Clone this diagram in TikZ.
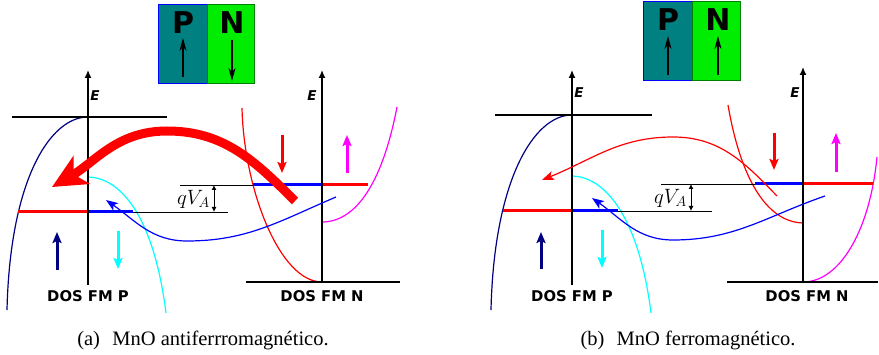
\documentclass[tikz,border=0pt]{standalone}
\usepackage{fontspec}
\setmainfont{Liberation Serif}
\setsansfont{DejaVu Sans}
\usetikzlibrary{arrows.meta}
\definecolor{pfill}{RGB}{0,128,128}
\definecolor{nfill}{RGB}{0,236,0}
\definecolor{nedge}{RGB}{0,128,0}
\definecolor{navy}{RGB}{0,0,128}
\definecolor{cyanc}{RGB}{0,255,255}
\definecolor{magc}{RGB}{255,0,255}
\definecolor{redc}{RGB}{255,0,0}
\definecolor{bluec}{RGB}{0,0,255}

\begin{document}
\begin{tikzpicture}[x=1pt, y=-1pt, >={Stealth[length=12pt,width=9pt,inset=3pt]},
	dos/.style={font=\sffamily\bfseries\fontsize{14.8}{17}\selectfont},
	elabel/.style={font=\sffamily\bfseries\itshape\fontsize{13.5}{15}\selectfont},
	letter/.style={font=\sffamily\bfseries\fontsize{30}{32}\selectfont},
	caption/.style={font=\fontsize{20.5}{24}\selectfont},
	axis/.style={line width=1.4pt, -{Latex[length=8pt,width=7pt]}},
	zero/.style={line width=1.4pt},
	thin/.style={line width=0.8pt},
	band/.style={line width=1.2pt},
	level/.style={line width=3pt},
	spin/.style={line width=3pt, -{Stealth[length=11pt,width=9pt,inset=2pt]}},
	boxarrow/.style={line width=1.1pt, -{Stealth[length=13pt,width=7pt,inset=4pt]}},
	gap/.style={line width=0.9pt, {Latex[length=5pt,width=5pt]}-{Latex[length=5pt,width=5pt]}}]
	\useasboundingbox (0,0) rectangle (879,355);

	% (a) antiferromagnetic
	\draw[fill=pfill, draw=bluec, line width=1pt] (158,5) rectangle (207,84);
	\draw[fill=nfill, draw=nedge, line width=1pt] (207,5) rectangle (254,84);
	\node[letter] (pa) at (183,23) {P};
	\node[letter] (na) at (232,23) {N};
	\draw[boxarrow] (183,77) -- (183,38);
	\draw[boxarrow] (232,40) -- (232,81);

	\draw[navy, band] (7,310) .. controls (10,180) and (50,117) .. (88,117);
	\draw[cyanc, band] (88,177) .. controls (125,178) and (155,225) .. (166,313);
	\draw[redc, band] (242,108) .. controls (244,190) and (280,282) .. (322,282);
	\draw[magc, band] (322,222) .. controls (355,222) and (382,185) .. (397,107);

	\draw[zero] (12,117) -- (167,117);
	\draw[zero] (246,282) -- (400,282);
	\draw[thin] (88,212) -- (228,212);
	\draw[thin] (180,185) -- (322,185);
	\draw[level, redc] (18,212) -- (88,212);
	\draw[level, bluec] (88,212) -- (133,212);
	\draw[level, bluec] (253,185) -- (322,185);
	\draw[level, redc] (322,185) -- (368,185);
	\draw[axis] (88,285) -- (88,70);
	\draw[axis] (322,281) -- (322,70);
	\node[elabel] (ela) at (95,96) {E};
	\node[elabel] (era) at (312,96) {E};

	\draw[gap] (214,185) -- (214,212);
	\node[anchor=east, inner sep=1pt, font=\fontsize{22}{26}\selectfont] (qva) at (211,199) {$qV_A$};

	\draw[spin, navy] (57,270) -- (57,232);
	\draw[spin, cyanc] (118,231) -- (118,269);
	\draw[spin, redc] (282,135) -- (282,173);
	\draw[spin, magc] (347,173) -- (347,135);

	\draw[redc, line width=9pt, -{Stealth[length=34pt,width=32pt,inset=9pt]}] (295,201) to[out=135, in=0] (167,131) to[out=180, in=30] (52,187);
	\draw[bluec, band, ->] (336,197) to[out=203, in=0] (187,241) to[out=180, in=-35] (106,200);

	\node[dos] (dpa) at (88,296) {DOS FM P};
	\node[dos] (dna) at (322,296) {DOS FM N};
	\node[caption] (capa) at (203,340) {(a)\hspace{0.6em}MnO antiferrromagnético.};

	% (b) ferromagnetic
	\draw[fill=pfill, draw=bluec, line width=1pt] (643,2) rectangle (692,81);
	\draw[fill=nfill, draw=nedge, line width=1pt] (692,2) rectangle (740,81);
	\node[letter] (pb) at (668,20) {P};
	\node[letter] (nb) at (718,20) {N};
	\draw[boxarrow] (668,75) -- (668,36);
	\draw[boxarrow] (718,75) -- (718,36);

	\draw[navy, band] (491,310) .. controls (494,180) and (534,115) .. (572,115);
	\draw[cyanc, band] (572,176) .. controls (609,177) and (640,225) .. (651,313);
	\draw[redc, band] (728,105) .. controls (740,175) and (765,222) .. (803,223);
	\draw[magc, band] (803,282) .. controls (840,282) and (870,230) .. (877,157);

	\draw[zero] (495,115) -- (652,115);
	\draw[zero] (727,282) -- (878,282);
	\draw[thin] (572,211) -- (712,211);
	\draw[thin] (661,184) -- (803,184);
	\draw[level, redc] (503,211) -- (572,211);
	\draw[level, bluec] (572,211) -- (618,211);
	\draw[level, bluec] (755,184) -- (803,184);
	\draw[level, redc] (803,184) -- (873,184);
	\draw[axis] (572,285) -- (572,70);
	\draw[axis] (803,281) -- (803,67);
	\node[elabel] (elb) at (579,93) {E};
	\node[elabel] (erb) at (795,93) {E};

	\draw[gap] (691,184) -- (691,211);
	\node[anchor=east, inner sep=1pt, font=\fontsize{22}{26}\selectfont] (qvb) at (688,198) {$qV_A$};

	\draw[spin, navy] (541,269) -- (541,232);
	\draw[spin, cyanc] (602,230) -- (602,268);
	\draw[spin, redc] (774,133) -- (774,170);
	\draw[spin, magc] (836,172) -- (836,133);

	\draw[redc, band, ->] (777,196) to[out=134, in=0] (673,137) to[out=180, in=22] (542,180);
	\draw[bluec, band, ->] (825,196) to[out=199, in=0] (673,240) to[out=180, in=-35] (592,198);

	\node[dos] (dpb) at (572,296) {DOS FM P};
	\node[dos] (dnb) at (807,296) {DOS FM N};
	\node[caption] (capb) at (688,340) {(b)\hspace{0.6em}MnO ferromagnético.};
\end{tikzpicture}
\end{document}
